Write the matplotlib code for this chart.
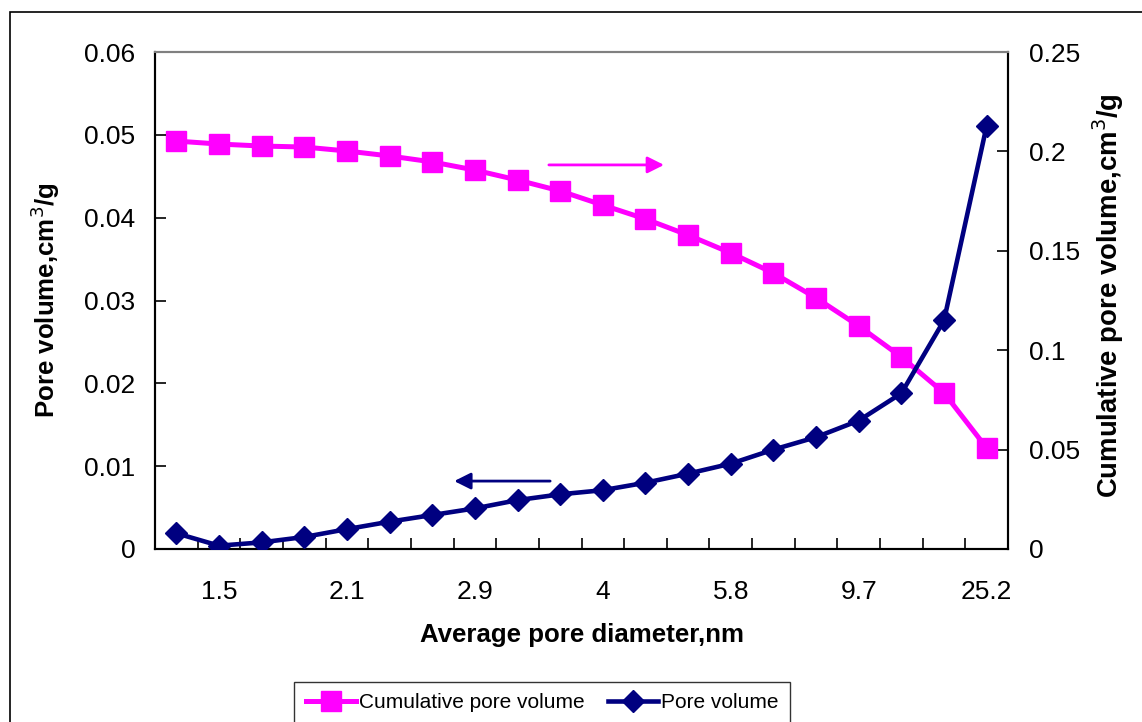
import numpy as np
import matplotlib.pyplot as plt
from matplotlib.patches import Rectangle

plt.rcParams['font.family'] = ['Liberation Sans', 'DejaVu Sans']

# pore volume (left axis) and cumulative pore volume (right axis), 20 size classes
pore_vol = [0.0019, 0.0004, 0.0008, 0.00145, 0.0024, 0.0033, 0.0041, 0.0049, 0.0059, 0.0066,
            0.0071, 0.0080, 0.0091, 0.0103, 0.0120, 0.0135, 0.0155, 0.0188, 0.0276, 0.0511]
cum_vol = [0.2052, 0.2037, 0.2027, 0.2022, 0.2002, 0.1977, 0.1947, 0.1906, 0.1856, 0.1801,
           0.1730, 0.1660, 0.1579, 0.1489, 0.1388, 0.1263, 0.1122, 0.0966, 0.0785, 0.0508]
diam_labels = ["1.5", "2.1", "2.9", "4", "5.8", "9.7", "25.2"]
label_every = 3

x = np.arange(len(pore_vol))
magenta = '#FF00FF'
navy = '#000080'

fig = plt.figure(figsize=(11.42, 7.22), dpi=100)
ax = fig.add_axes([155/1142, 1-549/722, 853/1142, 497/722])
ax2 = ax.twinx()
# pore volume line sits over the cumulative one
ax.set_zorder(ax2.get_zorder() + 1)
ax.patch.set_visible(False)

l2, = ax.plot(x, pore_vol, color=navy, lw=3.3, marker='D', ms=11.5, label='Pore volume', zorder=3)
l1, = ax2.plot(x, cum_vol, color=magenta, lw=3.6, marker='s', ms=14, label='Cumulative pore volume', zorder=3)

ax.set_xlim(-0.5, len(x) - 0.5)
ax.set_ylim(0, 0.06)
ax.set_yticks(np.arange(0, 0.061, 0.01))
ax.set_yticklabels(['0', '0.01', '0.02', '0.03', '0.04', '0.05', '0.06'])
ax2.set_ylim(0, 0.25)
ax2.set_yticks(np.arange(0, 0.251, 0.05))
ax2.set_yticklabels(['0', '0.05', '0.1', '0.15', '0.2', '0.25'])

# tick marks between categories, labels on every third category
ax.set_xticks(np.arange(-0.5, len(x), 1.0))
ax.set_xticklabels([])
ax.set_xticks(x[1::label_every], minor=True)
ax.set_xticklabels(diam_labels, minor=True)
ax.tick_params(axis='x', which='major', direction='in', length=8, width=1.2)
ax.tick_params(axis='x', which='minor', length=0, pad=22, labelsize=19)
ax.tick_params(axis='y', direction='in', length=8, width=1.2, pad=14, labelsize=19)
ax2.tick_params(axis='y', direction='in', length=8, width=1.2, pad=15, labelsize=19)

for a in (ax, ax2):
    for side in ('left', 'bottom', 'right'):
        a.spines[side].set_color('black')
        a.spines[side].set_linewidth(1.5)
    a.spines['top'].set_color('#808080')
    a.spines['top'].set_linewidth(1.5)

ax.set_xlabel('Average pore diameter,nm', fontsize=18.6, fontweight='bold', labelpad=14)
ax.set_ylabel('Pore volume,cm$^3$/g', fontsize=18.6, fontweight='bold', va='center')
ax.yaxis.set_label_coords(-0.129, 0.5)
ax2.set_ylabel('Cumulative pore volume,cm$^3$/g', fontsize=19.8, fontweight='bold', va='center',
               rotation=90)
ax2.yaxis.set_label_coords(1.117, 0.509)

# direction arrows pointing to each series' axis
ax2.annotate('', xy=(11.5, 0.1932), xytext=(8.67, 0.1932),
             arrowprops=dict(arrowstyle='-|>', color=magenta, lw=2, mutation_scale=25))
ax.annotate('', xy=(6.45, 0.0082), xytext=(8.83, 0.0082),
            arrowprops=dict(arrowstyle='-|>', color=navy, lw=2, mutation_scale=25))

fig.legend(handles=[l1, l2], loc='upper center', bbox_to_anchor=(542/1142, 1-682/722),
           ncol=2, fontsize=15, frameon=True, fancybox=False, edgecolor='black',
           handlelength=2.4, handletextpad=0.15, columnspacing=1.1, borderpad=0.55,
           borderaxespad=0)

# outer chart border
fig.patches.append(Rectangle((10/1142, -0.05), 1.2, 1-12/722+0.05, transform=fig.transFigure,
                             fill=False, edgecolor='black', lw=1.2))

fig.savefig('out.png', dpi=100)
